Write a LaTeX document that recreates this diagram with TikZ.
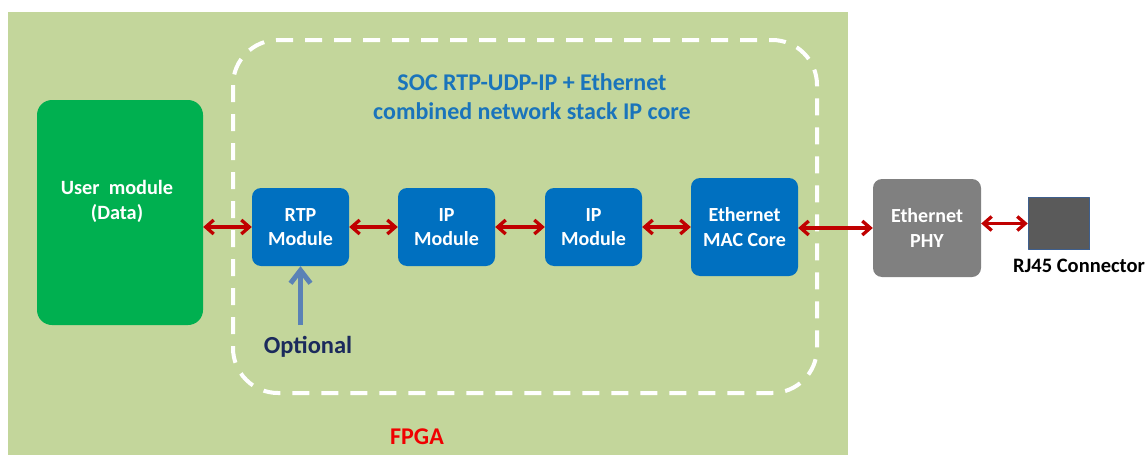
\documentclass[tikz,border=0pt]{standalone}
\usepackage{fontspec}
\setmainfont{Carlito}
\usetikzlibrary{arrows.meta}

\definecolor{fpgagreen}{HTML}{C3D69B}
\definecolor{usergreen}{HTML}{00B050}
\definecolor{coreblue}{HTML}{0070C0}
\definecolor{titleblue}{HTML}{1A74BB}
\definecolor{linkred}{HTML}{C00000}
\definecolor{fpgared}{HTML}{F00000}
\definecolor{optnavy}{HTML}{1B2A5C}
\definecolor{optblue}{HTML}{5A82B6}
\definecolor{phygray}{HTML}{808080}
\definecolor{rjgray}{HTML}{5A5A5A}
\definecolor{rjedge}{HTML}{3E5F8E}

\tikzset{
  block/.style={rounded corners=9pt, inner sep=0pt, align=center, text=white,
    font=\fontsize{20}{24.5}\selectfont\bfseries},
  corebox/.style={block, fill=coreblue, minimum width=97pt, minimum height=78pt},
  link/.style={draw=linkred, line width=3.3pt, {Straight Barb[length=8pt,width=14pt]}-{Straight Barb[length=8pt,width=14pt]}},
}

\begin{document}
\begin{tikzpicture}[x=1pt, y=-1pt, line cap=butt, line join=round]

  %% ════ FPGA background ════
  \fill[fpgagreen] (8,12) rectangle (848,455);
  \draw[white, line width=4pt, rounded corners=45pt, dash pattern=on 17pt off 12pt]
    (233,40) rectangle (817,393);

  %% ════ blocks ════
  \node[block, fill=usergreen, minimum width=166pt, minimum height=225pt,
        rounded corners=15pt] (user) at (120,212.5) {};
  \node[block, font=\fontsize{20.3}{25}\selectfont\bfseries] (userlbl) at (117,201) {User~ module\\(Data)};
  \node[corebox] (rtp) at (300.5,227) {RTP\\Module};
  \node[corebox] (ipa) at (446.5,227) {IP\\Module};
  \node[corebox] (ipb) at (593.5,227) {IP\\Module};
  \node[corebox, minimum width=107pt, minimum height=98pt] (mac) at (744.5,227) {Ethernet\\MAC Core};
  \node[block, fill=phygray, minimum width=108pt, minimum height=98pt] (phy) at (927,228) {Ethernet\\PHY};
  \node[draw=rjedge, fill=rjgray, line width=1.5pt, minimum width=61pt, minimum height=52pt,
        inner sep=0pt] (rj) at (1059,223.5) {};

  %% ════ labels ════
  \node[text=titleblue, align=center, font=\fontsize{24}{29}\selectfont\bfseries]
    (title) at (532,97) {SOC RTP-UDP-IP + Ethernet\\combined network stack IP core};
  \node[font=\fontsize{20.5}{24}\selectfont\bfseries, anchor=north, inner sep=0pt]
    (rjlbl) at ([xshift=20pt,yshift=-9pt]rj.south) {RJ45 Connector};
  \node[text=optnavy, font=\fontsize{24.5}{28}\selectfont\bfseries, inner sep=1pt] (opt) at (308,347) {Optional};
  \node[text=fpgared, font=\fontsize{24}{28}\selectfont\bfseries] (fpga) at (417,437) {FPGA};
  \coordinate (optfoot) at (300.5,325);

  %% ════ connectors ════
  \draw[link] (user.east |- rtp.west) -- (rtp.west);
  \draw[link] (rtp) -- (ipa);
  \draw[link] (ipa) -- (ipb);
  \draw[link] (ipb) -- (mac);
  \draw[link] (mac.east |- phy.west) -- (phy.west);
  \draw[link] (phy.east |- rj.west) -- (rj.west);
  \draw[draw=optblue, line width=5pt, -{Straight Barb[length=13pt,width=20pt]}]
    (optfoot) -- (rtp.south);

  \pgfresetboundingbox
  \path[use as bounding box] (0,0) rectangle (1146,455);
\end{tikzpicture}
\end{document}
